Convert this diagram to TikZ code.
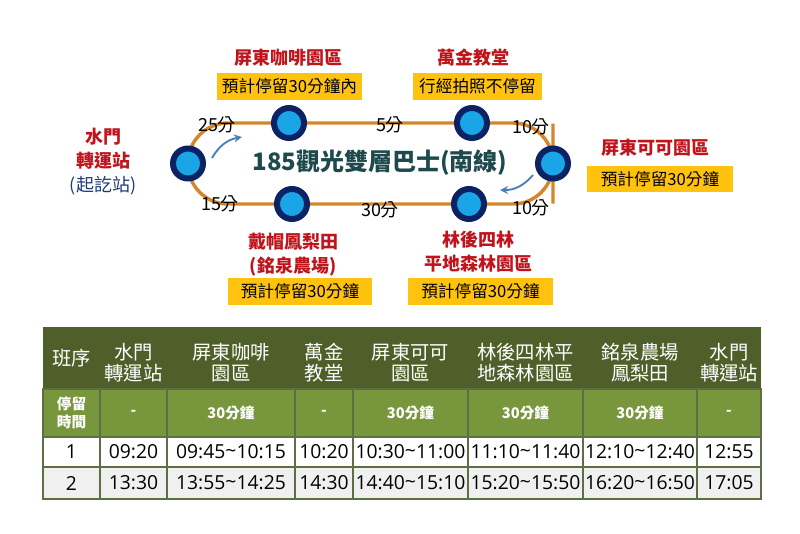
\documentclass[tikz,border=0pt]{standalone}
\usepackage{fontspec}
\setmainfont{Noto Sans CJK TC}
\newfontfamily\latin{Open Sans}
\usetikzlibrary{backgrounds, arrows.meta}

\definecolor{navy}{HTML}{0B2265}
\definecolor{skyblue}{HTML}{1AA5E6}
\definecolor{trackorange}{HTML}{D4872A}
\definecolor{stopred}{HTML}{C0141C}
\definecolor{startblue}{HTML}{1F3A78}
\definecolor{boxgold}{HTML}{FFC20E}
\definecolor{arrowblue}{HTML}{4A7FB8}
\definecolor{titleteal}{HTML}{1E4A4E}
\definecolor{olivedark}{HTML}{4E5F2A}
\definecolor{olivemid}{HTML}{78973D}
\definecolor{rowgrey}{HTML}{F0F0F0}
\definecolor{gridline}{HTML}{5F6F45}

\tikzset{
  station/.style={circle, draw=navy, fill=skyblue, line width=4.5pt, minimum size=22.5pt, inner sep=0pt},
  track/.style={draw=trackorange, line width=2.6pt},
  stopname/.style={text=stopred, font=\bfseries\fontsize{13.5}{18}\selectfont, align=center},
  staybox/.style={fill=boxgold, font=\fontsize{12.5}{14}\selectfont, inner sep=0pt, minimum height=20pt},
  mins/.style={font=\fontsize{13.5}{15}\selectfont, inner sep=0pt},
  turn/.style={draw=arrowblue, line width=1.4pt, -{Stealth[length=6pt,width=6pt]}},
  head/.style={text=white, font=\fontsize{14.5}{16}\selectfont, align=center},
  stoptime/.style={text=white, font=\bfseries\fontsize{11}{13}\selectfont, align=center},
  cell/.style={font=\latin\fontsize{14.5}{16}\selectfont},
  grid/.style={draw=gridline, line width=0.9pt}
}

\begin{document}
\begin{tikzpicture}[x=0.75pt, y=0.75pt]
\useasboundingbox (0,0) rectangle (800,-533);

% stations on the loop
\node [station] (shuimen) at (188,-163.5) {};
\node [station] (kafei) at (289,-123) {};
\node [station] (wanjin) at (472,-123) {};
\node [station] (keke) at (553,-163.5) {};
\node [station] (linhou) at (469,-204) {};
\node [station] (daimao) at (292,-204) {};

\begin{scope}[on background layer]
\draw [track, rounded corners=30pt] (shuimen.center) |- (kafei.center) -- (wanjin.center) -| (keke.center) |- (linhou.center) -- (daimao.center) -| (shuimen.center);
\end{scope}

\node [font=\bfseries\fontsize{18}{20}\selectfont, text=titleteal] (title) at (380,-163) {185觀光雙層巴士(南線)};

% travel times
\node [mins] (t1) at (217,-125) {25分};
\node [mins] (t2) at (390,-125) {5分};
\node [mins] (t3) at (531,-127) {10分};
\node [mins] (t4) at (531,-208) {10分};
\node [mins] (t5) at (380,-210) {30分};
\node [mins] (t6) at (220,-204) {15分};

% direction arrows
\coordinate (a1) at (212,-158);
\coordinate (a2) at (242,-137);
\coordinate (b1) at (533,-175);
\coordinate (b2) at (500,-190);
\draw [turn] (a1) to [bend left=25] (a2);
\draw [turn] (b1) to [bend left=25] (b2);

% station names and stops
\node [stopname] (shuimenname) at (103,-162) {水門\\轉運站\\\textcolor{startblue}{\mdseries(起訖站)}};
\node [stopname] (kafeiname) at (288,-58) {屏東咖啡園區};
\node [staybox, minimum width=108.75pt] (kafeistay) at (289.5,-86.5) {預計停留30分鐘內};
\node [stopname] (wanjinname) at (473,-58) {萬金教堂};
\node [staybox, minimum width=97pt] (wanjinstay) at (477.5,-86.5) {行經拍照不停留};
\node [stopname] (kekename) at (655,-148) {屏東可可園區};
\node [staybox, minimum width=109.5pt] (kekestay) at (660,-179) {預計停留30分鐘};
\node [stopname] (linhouname) at (478,-251.5) {林後四林\\平地森林園區};
\node [staybox, minimum width=109pt] (linhoustay) at (480.5,-291.5) {預計停留30分鐘};
\node [stopname] (daimaoname) at (293,-254.5) {戴帽鳳梨田\\(銘泉農場)};
\node [staybox, minimum width=108pt] (daimaostay) at (300,-291.5) {預計停留30分鐘};

% timetable
\fill [olivedark] (43,-327) rectangle (761,-389);
\fill [olivemid] (43,-389) rectangle (761,-437);
\fill [rowgrey] (43,-467) rectangle (761,-499);
\draw [grid] (43,-389) rectangle (761,-499);
\draw [grid] (43,-437) -- (761,-437);
\draw [grid] (43,-467) -- (761,-467);
\draw [grid] (100,-389) -- (100,-499) (167,-389) -- (167,-499) (295,-389) -- (295,-499) (353,-389) -- (353,-499);
\draw [grid] (468,-389) -- (468,-499) (583,-389) -- (583,-499) (697,-389) -- (697,-499);

\node [head] (h0) at (71.5,-358) {班序};
\node [head] (h1) at (133.5,-362.5) {水門\\轉運站};
\node [head] (h2) at (231,-362.5) {屏東咖啡\\園區};
\node [head] (h3) at (324,-362.5) {萬金\\教堂};
\node [head] (h4) at (410.5,-362.5) {屏東可可\\園區};
\node [head] (h5) at (525.5,-362.5) {林後四林平\\地森林園區};
\node [head] (h6) at (640,-362.5) {銘泉農場\\鳳梨田};
\node [head] (h7) at (729,-362.5) {水門\\轉運站};

\node [stoptime] (s0) at (71.5,-413) {停留\\時間};
\node [stoptime] (s1) at (133.5,-413) {-};
\node [stoptime] (s2) at (231,-413) {30分鐘};
\node [stoptime] (s3) at (324,-413) {-};
\node [stoptime] (s4) at (410.5,-413) {30分鐘};
\node [stoptime] (s5) at (525.5,-413) {30分鐘};
\node [stoptime] (s6) at (640,-413) {30分鐘};
\node [stoptime] (s7) at (729,-413) {-};

\node [cell] (r10) at (71.5,-452) {1};
\node [cell] (r11) at (133.5,-452) {09:20};
\node [cell] (r12) at (231,-452) {09:45\raisebox{0.1ex}{\textasciitilde}10:15};
\node [cell] (r13) at (324,-452) {10:20};
\node [cell] (r14) at (410.5,-452) {10:30\raisebox{0.1ex}{\textasciitilde}11:00};
\node [cell] (r15) at (525.5,-452) {11:10\raisebox{0.1ex}{\textasciitilde}11:40};
\node [cell] (r16) at (640,-452) {12:10\raisebox{0.1ex}{\textasciitilde}12:40};
\node [cell] (r17) at (729,-452) {12:55};

\node [cell] (r20) at (71.5,-483) {2};
\node [cell] (r21) at (133.5,-483) {13:30};
\node [cell] (r22) at (231,-483) {13:55\raisebox{0.1ex}{\textasciitilde}14:25};
\node [cell] (r23) at (324,-483) {14:30};
\node [cell] (r24) at (410.5,-483) {14:40\raisebox{0.1ex}{\textasciitilde}15:10};
\node [cell] (r25) at (525.5,-483) {15:20\raisebox{0.1ex}{\textasciitilde}15:50};
\node [cell] (r26) at (640,-483) {16:20\raisebox{0.1ex}{\textasciitilde}16:50};
\node [cell] (r27) at (729,-483) {17:05};
\end{tikzpicture}
\end{document}
